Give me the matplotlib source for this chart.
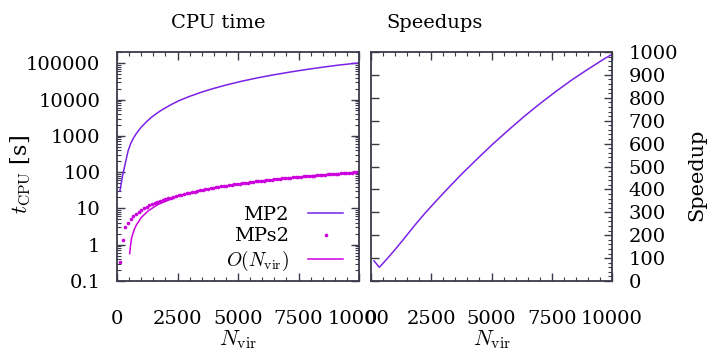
import numpy as np
import matplotlib
matplotlib.use("Agg")
import matplotlib.pyplot as plt
from matplotlib.ticker import FixedLocator, MultipleLocator, LogLocator, FuncFormatter, NullFormatter

plt.rcParams['font.family'] = ['DejaVu Serif']
plt.rcParams['mathtext.fontset'] = 'cm'
plt.rcParams['font.size'] = 14

# MP2 cpu time (s)
n_mp2 = [124, 234, 344, 454, 564, 674, 784, 894, 1004, 1224, 1444, 1664, 1884,
         2214, 2544, 2984, 3424, 3864, 4524, 5184, 5844, 6504, 7164, 7824,
         8484, 9144, 9804, 10000]
t_mp2 = [31, 82, 175, 375, 610, 855, 1120, 1410, 1740, 2470, 3320, 4270, 5330,
         7100, 9200, 12100, 15400, 19100, 25300, 32300, 40000, 48300, 57400, 67200,
         77600, 88600, 99000, 102000]

# MPs2 cpu time (s), one point every 110 virtuals starting at 124
n_mps2_start, n_mps2_step = 124, 110
t_mps2 = [0.33, 1.32, 3.0, 4.0, 5.1, 6.0, 7.0, 8.1, 9.2, 10.2,
          11.1, 12.1, 13.1, 14.1, 15.0, 16.0, 16.9, 17.9, 18.8, 19.8,
          20.7, 21.7, 22.7, 23.7, 24.7, 25.8, 26.9, 27.9, 29.0, 30.1,
          31.2, 32.1, 33.3, 34.4, 35.6, 36.7, 37.9, 39.0, 40.2, 41.3,
          42.5, 43.7, 44.8, 46.0, 47.1, 48.3, 49.4, 50.6, 51.7, 52.9,
          54.1, 55.2, 56.4, 57.5, 58.7, 59.8, 61.0, 62.1, 63.3, 64.4,
          65.6, 66.8, 67.9, 69.1, 70.2, 71.4, 72.5, 73.7, 74.8, 76.0,
          77.2, 78.3, 79.5, 80.6, 81.8, 82.9, 84.1, 85.2, 86.4, 87.5,
          88.7, 89.9, 91.0, 92.2, 93.3, 94.5, 95.6, 96.8, 97.9, 99.1]
n_mps2 = n_mps2_start + n_mps2_step * np.arange(len(t_mps2))

# O(N_vir) reference line
n_lin = [525, 550, 600, 700, 800, 1000, 1300, 1700, 2500, 4000, 6000, 8000, 10000]
t_lin = [0.57, 0.85, 1.5, 2.5, 3.5, 5.6, 8.7, 12.9, 21.3, 37, 58, 79, 100]

# speedup MP2 / MPs2
n_sp = [124, 234, 344, 454, 564, 784, 1004, 1334, 1774, 2214, 2654, 3204, 3754,
        4414, 5074, 5734, 6394, 7054, 7714, 8374, 9034, 9694, 10000]
speedup = [88, 74, 60, 72, 85, 111, 138, 180, 238, 293, 344, 406, 466,
           534, 600, 662, 722, 778, 831, 881, 927, 971, 990]

c_mp2 = '#7b22e6'
c_mps2 = '#cc00dd'
c_axis = '#3a3a4a'

fig = plt.figure(figsize=(7.12, 3.51), dpi=100)
ax1 = fig.add_axes([117/712, 1-281/351, 242/712, 229/351])
ax2 = fig.add_axes([371/712, 1-281/351, 241/712, 229/351])

# left: cpu time
ax1.plot(n_mp2, t_mp2, color=c_mp2, lw=1.1, label='MP2')
ax1.plot(n_mps2, t_mps2, ls='none', marker='o', ms=2.6, mew=0, color=c_mps2, label='MPs2')
ax1.plot(n_lin, t_lin, color=c_mps2, lw=1.1, label=r'$O(N_\mathrm{vir})$')
ax1.set_yscale('log')
ax1.set_ylim(0.1, 2.04e5)
ax1.set_xlim(0, 10000)
ax1.yaxis.set_major_locator(FixedLocator([0.1, 1, 10, 100, 1000, 10000, 100000]))
ax1.yaxis.set_major_formatter(FuncFormatter(lambda v, p: '{:g}'.format(v)))
ax1.yaxis.set_minor_locator(LogLocator(base=10, subs=np.arange(2, 10), numticks=20))
ax1.yaxis.set_minor_formatter(NullFormatter())
ax1.set_xticks([0, 2500, 5000, 7500, 10000])
ax1.xaxis.set_minor_locator(MultipleLocator(500))
ax1.set_title('CPU time', fontsize=14, pad=17, x=0.417)
ax1.set_ylabel(r'$t_\mathrm{CPU}$ [s]', fontsize=16)
ax1.yaxis.set_label_coords(-0.347, 0.463)
ax1.set_xlabel(r'$N_\mathrm{vir}$', fontsize=16, labelpad=0)
leg = ax1.legend(loc='lower right', bbox_to_anchor=(0.935, 0.035), frameon=False,
                 markerfirst=False, handlelength=1.8, handletextpad=1.0,
                 labelspacing=0.18, borderpad=0, borderaxespad=0, fontsize=14,
                 markerscale=1.0)

# right: speedup
ax2.plot(n_sp, speedup, color=c_mp2, lw=1.1)
ax2.set_xlim(0, 10000)
ax2.set_ylim(0, 1000)
ax2.set_xticks([0, 2500, 5000, 7500, 10000])
ax2.xaxis.set_minor_locator(MultipleLocator(500))
ax2.yaxis.set_major_locator(MultipleLocator(100))
ax2.yaxis.set_minor_locator(MultipleLocator(20))
ax2.yaxis.tick_right()
ax2.yaxis.set_label_position('right')
ax2.set_title('Speedups', fontsize=14, pad=17, x=0.263)
ax2.set_ylabel('Speedup', fontsize=15, rotation=90)
ax2.yaxis.set_label_coords(1.311, 0.463)
ax2.set_xlabel(r'$N_\mathrm{vir}$', fontsize=16, labelpad=0)

for ax in (ax1, ax2):
    for s in ax.spines.values():
        s.set_color(c_axis)
        s.set_linewidth(1.3)
    ax.tick_params(which='both', direction='in', top=True, bottom=True,
                   left=True, right=True, color=c_axis, labelsize=14)
    ax.tick_params(which='major', length=5.5, width=1.0)
    ax.tick_params(which='minor', length=3, width=0.8)
    ax.tick_params(axis='x', which='major', pad=21)
    ax.tick_params(axis='y', which='major', pad=12)
ax2.tick_params(which='both', labelleft=False, labelright=True)
ax2.tick_params(which='minor', left=False)

fig.savefig('out.png', dpi=100)
